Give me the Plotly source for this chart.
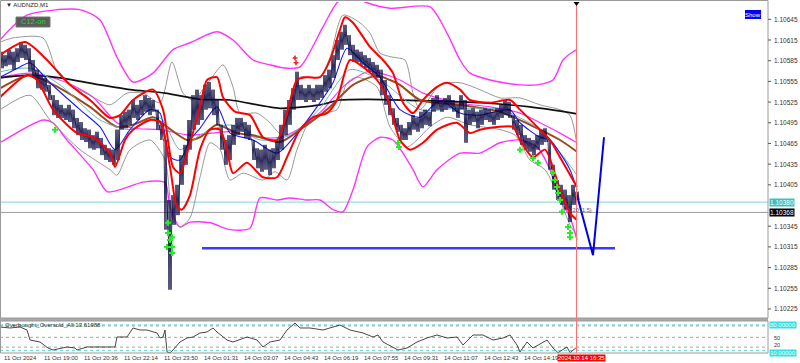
import plotly.graph_objects as go

# ---------------- data ----------------
symbol_title = "AUDNZD,M1"
osc_title = "Overbought_Oversold_All 13.61988"

# price bars: one bucket every 4 chart positions (bar index), high / low
bar_pos = list(range(0, 577, 4))
price_high = [1.10598,1.10593,1.10601,1.10598,1.10603,1.10612,1.10608,1.10603,1.10586,1.10572,
              1.10564,1.10560,1.10550,1.10535,1.10528,1.10521,1.10516,1.10521,1.10514,1.10502,
              1.10496,1.10487,1.10485,1.10477,1.10482,1.10473,1.10463,1.10458,1.10456,1.10485,
              1.10506,1.10511,1.10514,1.10528,1.10521,1.10528,1.10535,1.10531,1.10528,1.10514,
              1.10492,1.10470,1.10383,1.10390,1.10405,1.10448,1.10463,1.10499,1.10535,1.10543,
              1.10535,1.10550,1.10554,1.10543,1.10528,1.10492,1.10470,1.10477,1.10492,1.10502,
              1.10502,1.10496,1.10492,1.10470,1.10458,1.10456,1.10463,1.10456,1.10458,1.10470,
              1.10492,1.10514,1.10528,1.10545,1.10569,1.10550,1.10545,1.10550,1.10545,1.10550,
              1.10550,1.10564,1.10572,1.10593,1.10615,1.10627,1.10637,1.10622,1.10608,1.10601,
              1.10598,1.10593,1.10589,1.10583,1.10579,1.10572,1.10557,1.10535,1.10516,1.10502,
              1.10492,1.10487,1.10496,1.10506,1.10502,1.10511,1.10514,1.10511,1.10531,1.10535,
              1.10528,1.10531,1.10535,1.10528,1.10521,1.10535,1.10528,1.10514,1.10516,1.10511,
              1.10514,1.10516,1.10514,1.10511,1.10516,1.10521,1.10528,1.10525,1.10506,1.10499,
              1.10492,1.10477,1.10473,1.10470,1.10477,1.10485,1.10487,1.10470,1.10434,1.10412,
              1.10405,1.10398,1.10390,1.10405,1.10395]
price_low = [1.10574,1.10577,1.10579,1.10572,1.10583,1.10589,1.10586,1.10569,1.10560,1.10545,
             1.10543,1.10540,1.10528,1.10506,1.10502,1.10502,1.10499,1.10496,1.10487,1.10477,
             1.10470,1.10467,1.10458,1.10456,1.10458,1.10448,1.10441,1.10438,1.10434,1.10441,
             1.10485,1.10487,1.10492,1.10502,1.10499,1.10506,1.10511,1.10506,1.10511,1.10485,
             1.10470,1.10340,1.10253,1.10347,1.10361,1.10405,1.10434,1.10456,1.10485,1.10492,
             1.10499,1.10514,1.10516,1.10506,1.10492,1.10456,1.10434,1.10441,1.10463,1.10477,
             1.10482,1.10473,1.10470,1.10441,1.10429,1.10424,1.10427,1.10419,1.10429,1.10441,
             1.10456,1.10477,1.10492,1.10514,1.10528,1.10528,1.10525,1.10528,1.10525,1.10528,
             1.10531,1.10540,1.10545,1.10560,1.10586,1.10601,1.10608,1.10593,1.10583,1.10583,
             1.10579,1.10574,1.10569,1.10564,1.10560,1.10535,1.10521,1.10506,1.10492,1.10482,
             1.10470,1.10470,1.10477,1.10485,1.10482,1.10487,1.10492,1.10490,1.10511,1.10514,
             1.10511,1.10514,1.10516,1.10511,1.10502,1.10514,1.10466,1.10492,1.10496,1.10487,
             1.10492,1.10499,1.10496,1.10492,1.10499,1.10502,1.10506,1.10502,1.10485,1.10477,
             1.10463,1.10456,1.10453,1.10448,1.10456,1.10463,1.10467,1.10427,1.10398,1.10383,
             1.10376,1.10369,1.10351,1.10376,1.10383]

ma_black_x = [0,30,60,100,130,165,200,230,280,320,340,370,420,480,530,577]
ma_black_y = [1.10560,1.10564,1.10560,1.10550,1.10543,1.10538,1.10529,1.10528,1.10516,1.10521,
              1.10528,1.10529,1.10527,1.10524,1.10518,1.10508]

ma_brown_x = [0,30,60,90,117,135,153,167,187,200,217,237,253,280,300,330,353,377,390,400,420,460,500,530,560,577]
ma_brown_y = [1.10545,1.10564,1.10545,1.10518,1.10489,1.10493,1.10503,1.10489,1.10470,1.10474,
              1.10492,1.10480,1.10477,1.10467,1.10485,1.10518,1.10550,1.10563,1.10557,1.10550,
              1.10528,1.10521,1.10511,1.10492,1.10470,1.10453]

ma_blue_x = [0,20,30,50,80,100,115,130,150,160,170,180,190,200,217,230,253,277,300,317,
             333,347,363,380,400,420,440,460,480,510,520,540,550,560,570,577]
ma_blue_y = [1.10561,1.10576,1.10582,1.10553,1.10514,1.10489,1.10456,1.10485,1.10514,1.10509,
             1.10445,1.10441,1.10470,1.10487,1.10518,1.10480,1.10470,1.10451,1.10485,1.10518,
             1.10553,1.10603,1.10582,1.10561,1.10514,1.10503,1.10528,1.10509,1.10506,1.10514,
             1.10495,1.10474,1.10470,1.10451,1.10427,1.10398]

ma_teal_x = [0,30,60,100,130,160,180,200,230,260,290,320,350,380,420,460,500,540,577]
ma_teal_y = [1.10569,1.10574,1.10550,1.10499,1.10485,1.10502,1.10456,1.10477,1.10492,1.10470,
             1.10477,1.10516,1.10572,1.10557,1.10514,1.10516,1.10514,1.10485,1.10419]

red_up_x = [0,25,45,70,90,110,120,133,153,163,173,180,190,200,207,217,223,235,250,263,
            277,287,297,307,320,330,340,345,353,370,383,393,403,413,423,437,447,460,470,490,
            510,520,540,550,560,577]
red_up_y = [1.10593,1.10612,1.10589,1.10550,1.10528,1.10502,1.10506,1.10528,1.10543,1.10514,
            1.10431,1.10422,1.10466,1.10518,1.10557,1.10561,1.10532,1.10511,1.10506,1.10474,
            1.10470,1.10509,1.10557,1.10561,1.10561,1.10586,1.10630,1.10648,1.10640,1.10605,
            1.10586,1.10567,1.10524,1.10509,1.10528,1.10547,1.10553,1.10543,1.10528,1.10524,
            1.10528,1.10514,1.10485,1.10470,1.10445,1.10402]

red_dn_x = [0,27,37,53,77,93,110,115,125,133,150,160,170,177,182,190,200,210,220,227,
            233,247,263,277,287,300,313,327,337,350,363,377,387,400,410,423,437,457,470,480,
            497,513,520,533,545,560,570,577]
red_dn_y = [1.10532,1.10564,1.10557,1.10514,1.10480,1.10474,1.10451,1.10431,1.10470,1.10485,
            1.10499,1.10496,1.10431,1.10373,1.10369,1.10390,1.10456,1.10485,1.10485,1.10456,
            1.10422,1.10437,1.10416,1.10416,1.10445,1.10485,1.10503,1.10509,1.10528,1.10586,
            1.10576,1.10557,1.10532,1.10470,1.10456,1.10466,1.10485,1.10495,1.10480,1.10485,
            1.10489,1.10489,1.10470,1.10445,1.10456,1.10398,1.10364,1.10354]

gray_up_x = [0,13,43,57,70,90,110,127,143,160,172,183,193,210,223,233,240,257,270,280,
             290,300,320,330,343,360,370,380,393,405,413,420,440,460,480,500,520,540,560,570,577]
gray_up_y = [1.10612,1.10618,1.10618,1.10569,1.10550,1.10535,1.10521,1.10538,1.10538,1.10524,
             1.10583,1.10538,1.10528,1.10557,1.10579,1.10547,1.10509,1.10509,1.10495,1.10480,
             1.10514,1.10561,1.10561,1.10590,1.10651,1.10640,1.10625,1.10596,1.10590,1.10586,
             1.10538,1.10514,1.10550,1.10553,1.10543,1.10531,1.10531,1.10521,1.10514,1.10506,1.10463]

gray_dn_x = [0,30,50,80,110,117,130,150,165,173,180,190,200,210,220,230,243,263,275,287,
             297,310,323,337,347,357,377,390,407,417,430,447,470,500,515,530,545,560,570,577]
gray_dn_y = [1.10514,1.10535,1.10499,1.10456,1.10427,1.10419,1.10456,1.10470,1.10441,1.10354,
             1.10344,1.10357,1.10416,1.10466,1.10456,1.10412,1.10422,1.10412,1.10424,1.10412,
             1.10456,1.10499,1.10509,1.10514,1.10553,1.10561,1.10547,1.10489,1.10460,1.10470,
             1.10489,1.10503,1.10492,1.10485,1.10477,1.10441,1.10427,1.10383,1.10347,1.10332]

mag_up_x = [0,27,80,100,117,133,153,173,190,217,233,253,270,287,300,323,337,350,367,390,
            430,447,460,470,490,520,537,553,563,573,577]
mag_up_y = [1.10615,1.10651,1.10659,1.10644,1.10590,1.10554,1.10567,1.10601,1.10611,1.10627,
            1.10615,1.10586,1.10579,1.10574,1.10576,1.10634,1.10669,1.10680,1.10669,1.10661,
            1.10663,1.10625,1.10586,1.10567,1.10557,1.10550,1.10550,1.10557,1.10586,1.10598,1.10601]

mag_mid_x = [0,33,67,93,117,133,160,190,230,257,280,300,323,343,367,380,400,423,457,490,520,540,560,577]
mag_mid_y = [1.10561,1.10567,1.10553,1.10532,1.10495,1.10487,1.10485,1.10477,1.10482,1.10474,
             1.10474,1.10487,1.10514,1.10547,1.10569,1.10567,1.10557,1.10538,1.10524,1.10518,
             1.10509,1.10495,1.10480,1.10466]

mag_dn_x = [0,43,53,67,93,107,120,143,165,170,180,190,210,230,250,260,277,290,307,320,
            333,343,353,367,380,393,403,413,423,437,460,480,500,520,537,550,560,570,577]
mag_dn_y = [1.10466,1.10499,1.10495,1.10470,1.10427,1.10395,1.10398,1.10409,1.10408,1.10373,
            1.10344,1.10351,1.10350,1.10340,1.10342,1.10386,1.10383,1.10386,1.10383,1.10383,
            1.10369,1.10366,1.10398,1.10460,1.10474,1.10470,1.10451,1.10427,1.10402,1.10427,
            1.10451,1.10451,1.10466,1.10470,1.10460,1.10427,1.10383,1.10358,1.10325]

signal_x = [55,168,168,172,170,167,172,172,398,399,520,533,538,553,555,557,558,560,562,568,570,570]
signal_y = [1.10485,1.10350,1.10335,1.10329,1.10325,1.10315,1.10315,1.10306,1.10466,1.10460,
            1.10456,1.10444,1.10437,1.10422,1.10412,1.10402,1.10393,1.10383,1.10366,1.10344,
            1.10335,1.10329]
sell_x = [295, 296]
sell_y = [1.10589, 1.10582]

level_x = [202, 615]
level_price = 1.10313
proj_x = [577, 593, 604]
proj_y = [1.10390, 1.10303, 1.10474]

teal_level = 1.10380
bid_level = 1.10365
now_pos = 576.5

price_ticks = ["1.10645","1.10615","1.10585","1.10555","1.10525","1.10495","1.10465","1.10435",
               "1.10405","1.10345","1.10315","1.10285","1.10255","1.10225"]

time_pos = [2,42,82,122,162,202,242,282,322,362,402,442,482,522]
time_labels = ["11 Oct 2024","11 Oct 19:00","11 Oct 20:36","11 Oct 22:14","11 Oct 23:50",
               "14 Oct 01:31","14 Oct 03:07","14 Oct 04:43","14 Oct 06:19","14 Oct 07:55",
               "14 Oct 09:31","14 Oct 11:07","14 Oct 12:43","14 Oct 14:19"]
now_label = "2024.10.14 16:35"

osc_x = [0,10,20,27,30,40,48,53,67,75,77,87,100,115,117,127,133,140,147,157,160,163,165,167,170,
         173,180,187,193,200,207,213,217,227,233,247,257,263,270,280,287,295,300,310,323,333,340,
         350,363,373,378,383,393,398,407,417,427,437,447,457,463,473,483,493,503,510,517,520,527,
         533,547,553,558,567,570,577]
osc_y = [81.6,78.6,81.6,72.4,41.8,35.7,17.3,11.2,20.4,17.3,11.2,20.4,20.4,20.4,51,51,78.6,72.4,72.4,
         63.3,47.9,51,72.4,5.1,2.5,11.2,35.7,47.9,51,63.3,66.3,78.6,66.3,41.8,35.7,51,41.8,20.4,35.7,
         41.8,72.4,93.9,78.6,78.6,72.4,81.6,87.8,72.4,63.3,51,57.1,35.7,20.4,11.2,17.3,35.7,47.9,57.1,
         47.9,51,26.5,57.1,57.1,41.8,47.9,57.1,26.5,5.1,35.7,17.3,41.8,17.3,3,20.4,3,20.4]
osc_gray_levels = [85, 50, 20]
osc_cyan_levels = [88, 10]

# ---------------- figure ----------------
W, H = 800, 363
def py(p):
    return 1 - p / H
def px(p):
    return p / W

FONT = "Liberation Sans"
fig = go.Figure()

def line(x, y, color, width, dash=None, smooth=True, axis="y"):
    fig.add_trace(go.Scatter(x=x, y=y, mode="lines", yaxis=axis, hoverinfo="skip",
                             line=dict(color=color, width=width, dash=dash,
                                       shape="spline" if smooth else "linear",
                                       smoothing=0.7 if smooth else None)))

# horizontal levels
line([0, 768], [teal_level, teal_level], "#7fd6d6", 1, smooth=False)
line([0, 768], [bid_level, bid_level], "#9a9a9a", 1, smooth=False)

line(mag_up_x, mag_up_y, "#ff33ff", 1.4)
line(mag_mid_x, mag_mid_y, "#ff33ff", 1.2)
line(mag_dn_x, mag_dn_y, "#ff33ff", 1.4)
line(gray_up_x, gray_up_y, "#8c8c8c", 0.9)
line(gray_dn_x, gray_dn_y, "#8c8c8c", 0.9)
line(ma_black_x, ma_black_y, "#111111", 1.7)
line(ma_brown_x, ma_brown_y, "#9a4a1a", 2)
line(ma_teal_x, ma_teal_y, "#66bcbc", 1)
line(ma_blue_x, ma_blue_y, "#1a1aff", 1.1)

# price bars: each bucket's high-low range drawn as dense vertical strokes
zx, zy = [], []
for b, h, l in zip(bar_pos, price_high, price_low):
    zx += [b, b + 1, b + 2, b + 3]
    zy += [h, l, h, l]
line(zx, zy, "#05053c", 0.85, smooth=False)

line(red_up_x, red_up_y, "#ff0000", 2)
line(red_dn_x, red_dn_y, "#ff0000", 2)

fig.add_trace(go.Scatter(x=signal_x, y=signal_y, mode="markers", hoverinfo="skip",
                         marker=dict(symbol="cross", size=5, color="#22ee22")))
fig.add_trace(go.Scatter(x=sell_x, y=sell_y, mode="markers", hoverinfo="skip",
                         marker=dict(symbol="cross", size=4, color="#ee2222")))

line(level_x, [level_price, level_price], "#3a3aff", 2.5, smooth=False)
line(proj_x, proj_y, "#0000e6", 2, smooth=False)

# oscillator sub-panel
for lv in osc_gray_levels:
    line([0, 768], [lv, lv], "#8a8a8a", 0.8, dash="dot", smooth=False, axis="y2")
for lv in osc_cyan_levels:
    line([0, 768], [lv, lv], "#33cccc", 0.8, dash="dot", smooth=False, axis="y2")
line(osc_x, osc_y, "#333333", 0.9, smooth=False, axis="y2")

shapes = []
# separator and frames
shapes.append(dict(type="rect", xref="paper", yref="paper", x0=0, x1=px(768), y0=py(321), y1=py(318),
                   fillcolor="#a8a8a8", line=dict(width=0)))
shapes.append(dict(type="rect", xref="paper", yref="paper", x0=px(0.5), x1=px(768), y0=py(318), y1=py(0.5),
                   line=dict(color="#9a9a9a", width=1)))
shapes.append(dict(type="rect", xref="paper", yref="paper", x0=px(0.5), x1=px(768), y0=py(353), y1=py(321),
                   line=dict(color="#9a9a9a", width=1)))
# current time marker
shapes.append(dict(type="line", xref="x", yref="paper", x0=now_pos, x1=now_pos, y0=py(353), y1=py(2),
                   line=dict(color="#ff7070", width=1)))
shapes.append(dict(type="path", xref="paper", yref="paper",
                   path=f"M {px(573.5)} {py(2)} L {px(579.5)} {py(2)} L {px(576.5)} {py(6)} Z",
                   fillcolor="#000000", line=dict(width=0)))
# C12-on box and Show button
shapes.append(dict(type="rect", xref="paper", yref="paper", x0=px(16), x1=px(50), y0=py(27), y1=py(17),
                   fillcolor="#5a5a5a", line=dict(color="#777777", width=1)))
shapes.append(dict(type="rect", xref="paper", yref="paper", x0=px(745), x1=px(761), y0=py(19), y1=py(10),
                   fillcolor="#0000ff", line=dict(width=0)))

annotations = []
for t in price_ticks:
    annotations.append(dict(x=px(772), y=float(t), xref="paper", yref="y", text=t, showarrow=False,
                            xanchor="left", yanchor="middle",
                            font=dict(family=FONT, size=6.5, color="#333333")))
    shapes.append(dict(type="line", xref="paper", yref="y", x0=px(768), x1=px(771), y0=float(t), y1=float(t),
                       line=dict(color="#555555", width=1)))

annotations.append(dict(x=px(769), y=teal_level, xref="paper", yref="y", text="1.10380", showarrow=False,
                        xanchor="left", yanchor="middle", bgcolor="#3fbfbf", borderpad=0,
                        font=dict(family=FONT, size=6.5, color="#ffffff")))
annotations.append(dict(x=px(769), y=bid_level, xref="paper", yref="y", text="1.10368", showarrow=False,
                        xanchor="left", yanchor="middle", bgcolor="#000000", borderpad=0,
                        font=dict(family=FONT, size=6.5, color="#ffffff")))

for pos, lab in zip(time_pos, time_labels):
    annotations.append(dict(x=pos, y=py(358), xref="x", yref="paper", text=lab, showarrow=False,
                            xanchor="left", yanchor="middle",
                            font=dict(family=FONT, size=6, color="#333333")))
annotations.append(dict(x=557, y=py(358), xref="x", yref="paper", text=now_label, showarrow=False,
                        xanchor="left", yanchor="middle", bgcolor="#ff0000", borderpad=0,
                        font=dict(family=FONT, size=6, color="#ffffff")))

# sub-panel axis labels
annotations.append(dict(x=px(769), y=py(325), xref="paper", yref="paper", text="80.00000", showarrow=False,
                        xanchor="left", yanchor="middle", bgcolor="#33e0e0", borderpad=0,
                        font=dict(family=FONT, size=6, color="#ffffff")))
annotations.append(dict(x=px(769), y=py(352.5), xref="paper", yref="paper", text="10.00000", showarrow=False,
                        xanchor="left", yanchor="middle", bgcolor="#33e0e0", borderpad=0,
                        font=dict(family=FONT, size=6, color="#ffffff")))
for lab, yy in [("50", 337.5), ("20", 344.5)]:
    annotations.append(dict(x=px(772), y=py(yy), xref="paper", yref="paper", text=lab, showarrow=False,
                            xanchor="left", yanchor="middle",
                            font=dict(family=FONT, size=5.5, color="#333333")))

annotations.append(dict(x=px(3), y=py(325), xref="paper", yref="paper", text=osc_title, showarrow=False,
                        xanchor="left", yanchor="middle", font=dict(family=FONT, size=6, color="#333333")))
annotations.append(dict(x=px(4), y=py(5.5), xref="paper", yref="paper", text="▼ " + symbol_title,
                        showarrow=False, xanchor="left", yanchor="middle",
                        font=dict(family=FONT, size=6, color="#222222")))
annotations.append(dict(x=px(33), y=py(22), xref="paper", yref="paper", text="C12-on", showarrow=False,
                        xanchor="center", yanchor="middle", font=dict(family=FONT, size=7.5, color="#22dd22")))
annotations.append(dict(x=px(753), y=py(14.5), xref="paper", yref="paper", text="Show", showarrow=False,
                        xanchor="center", yanchor="middle", font=dict(family=FONT, size=6, color="#ffffff")))
annotations.append(dict(x=566, y=1.10368, xref="x", yref="y", text="1.20 (1.5)", showarrow=False,
                        xanchor="left", yanchor="middle", font=dict(family=FONT, size=5.5, color="#555555")))

fig.update_layout(
    width=W, height=H, margin=dict(l=0, r=0, t=0, b=0),
    paper_bgcolor="#ffffff", plot_bgcolor="#ffffff", showlegend=False,
    xaxis=dict(domain=[0, px(768)], range=[0, 768], showgrid=False, zeroline=False,
               showticklabels=False, ticks="", fixedrange=True, anchor="y2"),
    yaxis=dict(domain=[py(318), py(2)], range=[1.102119, 1.106701], showgrid=False, zeroline=False,
               showticklabels=False, ticks="", anchor="x"),
    yaxis2=dict(domain=[py(353), py(321)], range=[2, 100], showgrid=False, zeroline=False,
                showticklabels=False, ticks="", anchor="x"),
    shapes=shapes, annotations=annotations,
)
fig.write_html("out.html")
